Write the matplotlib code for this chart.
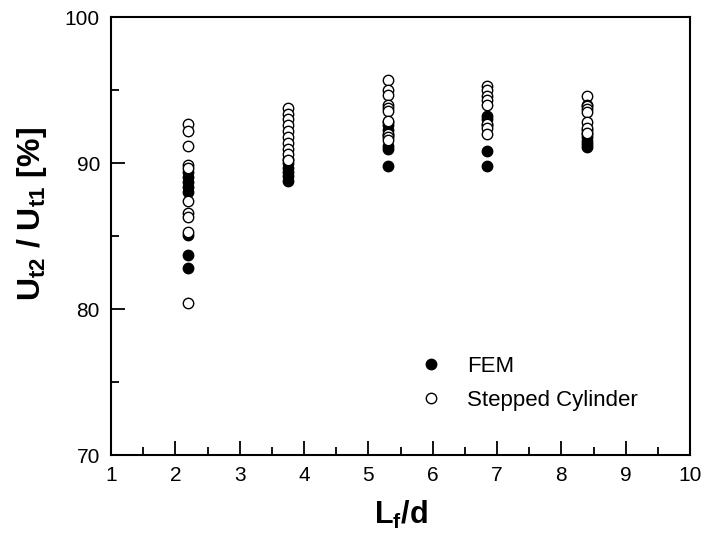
import matplotlib
matplotlib.use("Agg")
import matplotlib.pyplot as plt
from matplotlib.ticker import MultipleLocator

plt.rcParams["font.family"] = ["Liberation Sans", "DejaVu Sans"]
plt.rcParams["mathtext.fontset"] = "custom"
plt.rcParams["mathtext.rm"] = "Liberation Sans"
plt.rcParams["mathtext.bf"] = "Liberation Sans:bold"
plt.rcParams["mathtext.it"] = "Liberation Sans:italic"

# Lf/d positions of the five columns
lf_d = [2.2, 3.75, 5.3, 6.85, 8.4]

# FEM results (filled)
fem = [
    [89.4, 89.06, 88.72, 88.38, 88.03, 85.1, 83.7, 82.8],
    [90.3, 90.0, 89.7, 89.4, 89.1, 88.8],
    [92.8, 92.6, 92.3, 91.9, 91.2, 91.0, 89.8],
    [93.2, 93.0, 92.6, 90.8, 89.8],
    [92.3, 92.0, 91.8, 91.5, 91.3, 91.1],
]

# Stepped cylinder model (open)
stepped = [
    [92.7, 92.2, 91.2, 89.9, 89.7, 87.4, 86.6, 86.3, 85.3, 80.4],
    [93.8, 93.4, 93.0, 92.6, 92.2, 91.8, 91.4, 91.0, 90.6, 90.2],
    [95.7, 95.0, 94.7, 94.0, 93.8, 93.6, 92.9, 92.0, 91.8, 91.6],
    [95.3, 95.0, 94.6, 94.3, 94.0, 92.7, 92.4, 92.0],
    [94.6, 94.0, 93.9, 93.7, 93.5, 92.8, 92.4, 92.1],
]

fig = plt.figure(figsize=(7.07, 5.55), dpi=100)
ax = fig.add_axes([0.157, 0.180, 0.819, 0.789])

for x, ys in zip(lf_d, fem):
    ax.plot([x] * len(ys), ys, "o", color="black", markersize=7.5,
            label="FEM" if x == lf_d[0] else None)
for x, ys in zip(lf_d, stepped):
    ax.plot([x] * len(ys), ys, "o", markerfacecolor="white",
            markeredgecolor="black", markeredgewidth=1, markersize=7.5,
            label="Stepped Cylinder" if x == lf_d[0] else None)

ax.set_xlim(1, 10)
ax.set_ylim(70, 100)
ax.xaxis.set_major_locator(MultipleLocator(1))
ax.xaxis.set_minor_locator(MultipleLocator(0.5))
ax.yaxis.set_major_locator(MultipleLocator(10))
ax.yaxis.set_minor_locator(MultipleLocator(5))
ax.tick_params(which="both", direction="in", top=False, right=False,
               labelsize=15, width=1.3, pad=8)
ax.tick_params(which="major", length=10)
ax.tick_params(which="minor", length=6)
for s in ax.spines.values():
    s.set_linewidth(1.5)

ax.set_xlabel(r"$\mathbf{L_f/d}$", fontsize=22, labelpad=10)
ax.set_ylabel(r"$\mathbf{U_{t2}\ /\ U_{t1}\ [\%]}$", fontsize=23)
ax.yaxis.set_label_coords(-0.107, 0.55)

ax.legend(loc="lower left", bbox_to_anchor=(0.48, 0.055), frameon=False,
          fontsize=16, handletextpad=0.6, labelspacing=0.6)

fig.savefig("out.png", dpi=100)
